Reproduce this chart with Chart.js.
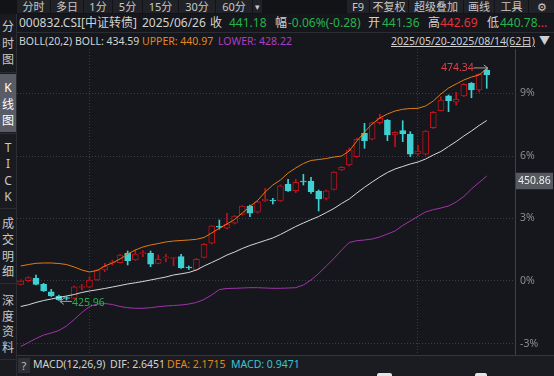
<!DOCTYPE html>
<html>
<head>
<meta charset="utf-8">
<script src="https://cdn.jsdelivr.net/npm/chart.js@4.4.1/dist/chart.umd.min.js"></script>
<style>
html, body { margin: 0; padding: 0; background: #15171c; width: 554px; height: 376px; overflow: hidden;
  font-family: "Noto Sans", "Noto Sans CJK SC", sans-serif; }
.t { position: absolute; white-space: nowrap; line-height: 14px; color: #d2d2d2; }
.r2 { top: 16px; font-size: 12px; }
.r3 { top: 34px; font-size: 10.5px; }
.tab { position: absolute; top: 0; height: 13px; background: #202227; color: #c9c9c9; font-size: 11px;
  line-height: 13px; text-align: center; }
.side { position: absolute; left: 0; width: 16px; text-align: center; font-size: 12px; line-height: 14px; color: #c8c8c8; }
.sep { position: absolute; background: #2b2d32; }
#kline { position: absolute; left: 17px; top: 49px; }
</style>
</head>
<body>

<!-- barisan tab paling atas -->
<div class="sep" style="left:0;top:0;width:554px;height:14px;background:#121317"></div>
<div class="tab" style="left:17px;width:33px">分时</div>
<div class="tab" style="left:51px;width:32px">多日</div>
<div class="tab" style="left:84px;width:28px">1分</div>
<div class="tab" style="left:113px;width:29px">5分</div>
<div class="tab" style="left:143px;width:35px">15分</div>
<div class="tab" style="left:179px;width:36px">30分</div>
<div class="tab" style="left:216px;width:36px">60分</div>
<div class="tab" style="left:253px;width:9px;font-size:9px">▾</div>
<div class="tab" style="left:347px;width:22px">F9</div>
<div class="tab" style="left:370px;width:38px">不复权</div>
<div class="tab" style="left:409px;width:54px">超级叠加</div>
<div class="tab" style="left:464px;width:30px">画线</div>
<div class="tab" style="left:495px;width:33px">工具</div>
<div class="tab" style="left:529px;width:25px">⚙</div>

<!-- sidebar kiri -->
<div class="sep" style="left:0;top:14px;width:16px;height:362px;background:#191b20"></div>
<div class="sep" style="left:16px;top:14px;width:1px;height:362px"></div>
<div class="sep" style="left:0;top:74px;width:16px;height:58px;background:#5a5c65"></div>
<div class="sep" style="left:0;top:72px;width:16px;height:1px"></div>
<div class="sep" style="left:0;top:133px;width:16px;height:1px"></div>
<div class="sep" style="left:0;top:208px;width:16px;height:1px"></div>
<div class="sep" style="left:0;top:283px;width:16px;height:1px"></div>
<div class="sep" style="left:0;top:359px;width:16px;height:1px"></div>
<div class="side" style="top:20px">分</div>
<div class="side" style="top:37px">时</div>
<div class="side" style="top:53px">图</div>
<div class="side" style="top:81px;color:#fff">K</div>
<div class="side" style="top:98px;color:#fff">线</div>
<div class="side" style="top:114px;color:#fff">图</div>
<div class="side" style="top:141px">T</div>
<div class="side" style="top:157px">I</div>
<div class="side" style="top:174px">C</div>
<div class="side" style="top:190px">K</div>
<div class="side" style="top:217px">成</div>
<div class="side" style="top:233px">交</div>
<div class="side" style="top:250px">明</div>
<div class="side" style="top:265px">细</div>
<div class="side" style="top:294px">深</div>
<div class="side" style="top:310px">度</div>
<div class="side" style="top:325px">资</div>
<div class="side" style="top:341px">料</div>

<!-- info harian -->
<span class="t r2" style="left:19px">000832.CSI[中证转债]</span>
<span class="t r2" style="left:142px">2025/06/26</span>
<span class="t r2" style="left:210px">收</span>
<span class="t r2" style="left:229px;color:#25b34c">441.18</span>
<span class="t r2" style="left:275px">幅</span>
<span class="t r2" style="left:288px;color:#25b34c">-0.06%(-0.28)</span>
<span class="t r2" style="left:368px">开</span>
<span class="t r2" style="left:382px;color:#25b34c">441.36</span>
<span class="t r2" style="left:428px">高</span>
<span class="t r2" style="left:440px;color:#e2343d">442.69</span>
<span class="t r2" style="left:487px">低</span>
<span class="t r2" style="left:500px;color:#25b34c">440.78<span style="color:#e2343d">...</span></span>
<div class="sep" style="left:17px;top:32px;width:537px;height:1px"></div>

<!-- baris BOLL -->
<span class="t r3" style="left:19px">BOLL(20,2) BOLL: 434.59</span>
<span class="t r3" style="left:142px;color:#e8861c">UPPER: 440.97</span>
<span class="t r3" style="left:218px;color:#b03cc2">LOWER: 428.22</span>
<span class="t r3" style="left:391px;text-decoration:underline;color:#cfcfcf">2025/05/20-2025/08/14(62日)</span>
<span class="t r3" style="left:539px;color:#cfcfcf;font-size:11px">▼</span>

<canvas id="kline" width="537" height="306"></canvas>

<!-- baris MACD bawah -->
<div class="sep" style="left:17px;top:355px;width:537px;height:21px;background:#1a1c21"></div>
<div class="sep" style="left:17px;top:355px;width:537px;height:1px;background:#34363c"></div>
<div class="t" style="left:18px;top:358px;width:12px;height:15px;background:#2e3035;font-size:11px;line-height:15px;text-align:center;color:#c0c0c0">?</div>
<span class="t" style="left:33px;top:357px;font-size:10.5px">MACD(12,26,9)</span>
<span class="t" style="left:110px;top:357px;font-size:10.5px">DIF: 2.6451</span>
<span class="t" style="left:167px;top:357px;font-size:10.5px;color:#e0881c">DEA: 2.1715</span>
<span class="t" style="left:231px;top:357px;font-size:10.5px;color:#3cc4d4">MACD: 0.9471</span>
<div class="sep" style="left:377px;top:373px;width:15px;height:3px;background:#e4e4e4;border-radius:2px 2px 0 0"></div>
<div class="sep" style="left:475px;top:373px;width:12px;height:3px;background:#e4e4e4;border-radius:2px 2px 0 0"></div>

<script>
// === DATA HARIAN 000832.CSI (2025/05/20 - 2025/08/14) ===
const dates = [
  '05/20','05/21','05/22','05/23','05/26','05/27','05/28','05/29','05/30',
  '06/03','06/04','06/05','06/06','06/09','06/10','06/11','06/12','06/13','06/16','06/17',
  '06/18','06/19','06/20','06/23','06/24','06/25','06/26','06/27','06/30',
  '07/01','07/02','07/03','07/04','07/07','07/08','07/09','07/10','07/11','07/14','07/15',
  '07/16','07/17','07/18','07/21','07/22','07/23','07/24','07/25','07/28','07/29','07/30','07/31',
  '08/01','08/04','08/05','08/06','08/07','08/08','08/11','08/12','08/13','08/14'
];
const opens = [
  429.31, 430.06, 430.56, 429.31, 427.77, 426.88, 426.40, 426.40, 428.65, 428.69,
  430.21, 432.29, 433.75, 433.81, 435.76, 434.37, 435.70, 435.76, 433.68, 434.81,
  434.68, 435.06, 432.81, 432.29, 434.93, 437.85, 441.36, 440.97, 442.01, 443.88,
  445.61, 444.30, 446.71, 446.75, 446.65, 450.12, 448.79, 450.71, 450.81, 448.73,
  447.21, 449.04, 453.10, 454.14, 455.87, 460.74, 459.49, 462.94, 463.50, 460.38,
  461.28, 460.53, 456.43, 456.37, 461.90, 465.44, 468.56, 467.19, 468.50, 471.14,
  469.75, 473.91
];
const highs = [
  430.27, 430.89, 431.25, 429.52, 428.27, 427.09, 426.73, 428.96, 429.31, 430.89,
  432.39, 433.68, 434.37, 435.62, 436.24, 436.45, 436.31, 436.24, 435.41, 435.56,
  434.89, 435.56, 433.12, 434.68, 437.80, 441.55, 442.69, 444.09, 443.63, 445.71,
  445.82, 446.65, 449.29, 447.21, 449.98, 451.16, 451.16, 452.20, 451.58, 448.94,
  448.94, 452.79, 453.83, 457.68, 459.76, 462.82, 463.09, 464.75, 463.61, 461.11,
  463.36, 461.07, 458.30, 461.32, 465.27, 468.35, 468.71, 469.27, 471.10, 471.31,
  473.18, 474.34
];
const lows = [
  429.17, 429.90, 429.17, 427.81, 426.77, 425.96, 426.05, 426.30, 428.13, 428.58,
  430.10, 431.94, 433.33, 433.75, 433.33, 434.27, 435.06, 432.98, 433.58, 434.02,
  433.18, 432.60, 432.39, 432.18, 434.79, 437.70, 440.78, 440.86, 441.86, 443.73,
  443.38, 444.15, 446.50, 446.02, 446.54, 448.63, 448.38, 449.98, 448.25, 444.57,
  446.86, 448.94, 452.99, 453.93, 455.70, 457.61, 459.34, 462.67, 459.20, 457.95,
  458.99, 455.87, 456.07, 456.22, 461.74, 465.38, 465.23, 466.63, 468.39, 468.14,
  469.33, 470.10
];
const closes = [
  430.00, 430.69, 429.31, 427.92, 426.88, 426.05, 426.36, 428.81, 428.73, 430.21,
  432.29, 432.98, 433.85, 435.41, 434.22, 435.62, 435.81, 433.48, 434.52, 434.89,
  434.85, 432.77, 432.71, 434.52, 437.64, 441.46, 441.18, 441.86, 443.53, 445.61,
  444.09, 446.50, 447.00, 446.65, 449.83, 448.73, 450.54, 450.60, 448.58, 447.06,
  448.79, 452.68, 453.66, 457.26, 459.49, 459.20, 462.94, 463.86, 460.38, 460.94,
  460.59, 456.37, 457.05, 461.22, 465.11, 467.67, 467.52, 467.81, 470.93, 469.75,
  473.01, 472.87
];

// === BOLL(20,2) ===
const bollUpper = [
  433.12, 433.43, 433.68, 433.75, 433.75, 433.64, 433.43, 432.91, 432.29, 431.87,
  432.19, 433.12, 433.75, 434.58, 435.62, 436.45, 437.08, 437.49, 437.80, 438.12,
  438.32, 438.43, 438.53, 438.68, 439.05, 439.99, 440.97, 441.86, 442.80, 444.15,
  445.50, 446.75, 448.52, 449.98, 451.02, 452.47, 453.52, 454.45, 455.08, 455.28,
  455.49, 455.80, 456.01, 457.05, 459.13, 461.01, 462.67, 463.92, 464.75, 465.38,
  465.73, 465.90, 465.94, 466.42, 467.46, 468.91, 470.16, 471.00, 471.83, 472.45,
  472.87, 474.22
];
const bollMid = [
  424.69, 425.05, 425.53, 425.94, 426.25, 426.57, 426.88, 427.19, 427.61, 427.92,
  428.17, 428.44, 428.75, 429.06, 429.38, 429.63, 429.90, 430.21, 430.52, 430.83,
  431.25, 431.50, 431.77, 432.29, 433.12, 433.85, 434.59, 435.41, 436.03, 436.76,
  437.39, 437.91, 438.43, 438.95, 439.68, 440.51, 441.34, 442.07, 442.76, 443.42,
  444.25, 445.09, 446.13, 447.06, 448.31, 449.50, 450.60, 451.64, 452.58, 453.31,
  453.83, 454.35, 454.76, 455.39, 456.22, 456.95, 457.99, 459.03, 460.17, 461.22,
  462.36, 463.40
];
const bollLower = [
  416.37, 417.20, 418.03, 418.76, 419.18, 419.70, 420.64, 421.99, 423.44, 424.69,
  425.21, 425.32, 425.11, 424.69, 424.44, 424.32, 424.32, 424.44, 424.65, 424.80,
  424.90, 425.01, 425.21, 425.53, 426.15, 427.09, 428.22, 428.44, 428.48, 428.54,
  428.61, 428.61, 428.54, 428.48, 428.48, 428.54, 428.61, 429.17, 430.21, 431.56,
  433.12, 434.68, 436.45, 438.01, 438.39, 438.53, 438.74, 439.16, 439.78, 440.41,
  441.55, 442.49, 443.46, 444.36, 444.84, 445.19, 445.61, 446.44, 447.58, 449.15,
  450.50, 451.85
];

// === SUMBU KANAN (persen terhadap harga dasar) ===
const tickPrices = [416.89, 430.00, 443.05, 456.01, 469.06];
const tickLabels = ['-3%', '0%', '3%', '6%', '9%'];
const gridDates = ['06/03', '08/01'];
const cursorPrice = 450.86;

// === WARNA ===
const BG = '#15171c';
const RED = '#c0121b';
const CYAN = '#3fd0d2';
const GREEN = '#25b34c';
const GRID = '#3a3d44';
const FONT = '"Noto Sans", "Noto Sans CJK SC", sans-serif';

const isUp = i => closes[i] >= opens[i];
const toPoints = arr => arr.map((v, i) => ({ x: i, y: v }));

// panah kecil untuk label harga tertinggi / terendah
function drawArrow(ctx, x1, y1, x2, y2) {
    const dir = Math.sign(x2 - x1);
    ctx.beginPath();
    ctx.moveTo(x1, y1); ctx.lineTo(x2, y2);
    ctx.moveTo(x2 - dir * 4, y2 - 3); ctx.lineTo(x2, y2); ctx.lineTo(x2 - dir * 4, y2 + 3);
    ctx.stroke();
}

const markerPlugin = {
    id: 'markers',
    afterDraw(chart) {
        const { ctx, chartArea: a, scales: { x, y } } = chart;
        ctx.save();

        // garis sumbu kanan
        ctx.strokeStyle = '#3e4147';
        ctx.lineWidth = 1;
        const rx = Math.round(a.right) - 0.5;
        ctx.beginPath(); ctx.moveTo(rx, a.top); ctx.lineTo(rx, a.bottom); ctx.stroke();

        ctx.font = '10.5px ' + FONT;
        ctx.textBaseline = 'middle';
        ctx.strokeStyle = '#a0a0a0';

        // harga tertinggi
        const hi = Math.max(...highs), iHi = highs.indexOf(hi);
        const hx = x.getPixelForValue(iHi), hy = y.getPixelForValue(hi);
        drawArrow(ctx, hx - 13, hy, hx + 1, hy);
        ctx.fillStyle = '#d9434c';
        ctx.textAlign = 'right';
        ctx.fillText(hi.toFixed(2), hx - 13, hy);

        // harga terendah
        const lo = Math.min(...lows), iLo = lows.indexOf(lo);
        const lx = x.getPixelForValue(iLo), ly = y.getPixelForValue(lo) + 1;
        drawArrow(ctx, lx + 13, ly, lx + 1, ly);
        ctx.fillStyle = GREEN;
        ctx.textAlign = 'left';
        ctx.fillText(lo.toFixed(2), lx + 13, ly + 2);

        // label harga kursor di sumbu kanan
        const py = y.getPixelForValue(cursorPrice);
        ctx.fillStyle = '#56595f';
        ctx.fillRect(a.right, py - 8, 37, 16.5);
        ctx.fillStyle = '#eeeeee';
        ctx.fillText(cursorPrice.toFixed(2), a.right + 2, py);

        ctx.restore();
    }
};

new Chart(document.getElementById('kline'), {
    type: 'bar',
    data: {
        datasets: [
            { type: 'line', label: 'UPPER', data: toPoints(bollUpper), borderColor: '#e07d14',
              borderWidth: 1, pointRadius: 0, order: 0 },
            { type: 'line', label: 'BOLL', data: toPoints(bollMid), borderColor: '#d8d8d8',
              borderWidth: 1, pointRadius: 0, order: 0 },
            { type: 'line', label: 'LOWER', data: toPoints(bollLower), borderColor: '#a233ac',
              borderWidth: 1, pointRadius: 0, order: 0 },
            { label: 'body', data: dates.map((d, i) => ({ x: i, y: [opens[i], closes[i]] })),
              barThickness: 6, borderWidth: 1, borderSkipped: false, minBarLength: 1, grouped: false,
              backgroundColor: c => isUp(c.dataIndex) ? BG : CYAN,
              borderColor: c => isUp(c.dataIndex) ? RED : CYAN, order: 1 },
            { label: 'wick', data: dates.map((d, i) => ({ x: i, y: [lows[i], highs[i]] })),
              barThickness: 1, borderWidth: 0, minBarLength: 1, grouped: false,
              backgroundColor: c => isUp(c.dataIndex) ? RED : CYAN, order: 2 }
        ]
    },
    options: {
        responsive: false,
        animation: false,
        layout: { padding: 0, autoPadding: false },
        plugins: { legend: { display: false }, tooltip: { enabled: false } },
        scales: {
            x: {
                type: 'linear', min: -0.484, max: 64.83, offset: false,
                grid: { offset: false, color: GRID, drawTicks: false },
                border: { display: false, dash: [1, 2] },
                ticks: { display: false, padding: 0 },
                afterBuildTicks: s => { s.ticks = gridDates.map(d => ({ value: dates.indexOf(d) })); },
                afterFit: s => { s.height = 0; s.paddingTop = 0; s.paddingBottom = 0; }
            },
            y: {
                position: 'right', min: 414.60, max: 478.28,
                grid: { color: GRID, drawTicks: false },
                border: { display: false, dash: [1, 2] },
                ticks: { color: '#8d8d8d', padding: 4, font: { size: 10.5, family: FONT },
                         callback: (v, i) => tickLabels[i] },
                afterBuildTicks: s => { s.ticks = tickPrices.map(v => ({ value: v })); },
                afterFit: s => { s.width = 38; s.paddingTop = 0; s.paddingBottom = 0; }
            }
        }
    },
    plugins: [markerPlugin]
});
</script>
</body>
</html>
